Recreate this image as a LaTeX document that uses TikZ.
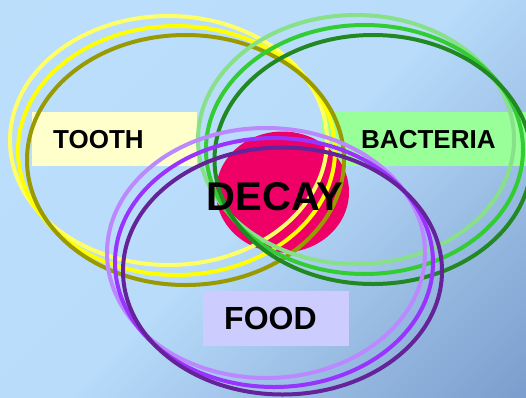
\documentclass[tikz,border=0pt]{standalone}
\usepackage{fontspec}
\setmainfont{Liberation Sans}
\usetikzlibrary{shapes.geometric}
\definecolor{bgdark}{RGB}{118,152,200}
\definecolor{bgdark2}{RGB}{124,158,206}
\definecolor{bglight}{RGB}{184,220,250}
\definecolor{bglight2}{RGB}{188,224,252}
\pgfdeclareverticalshading{bgshade}{100bp}{color(0bp)=(bgdark); color(15bp)=(bgdark2); color(50bp)=(bglight); color(100bp)=(bglight2)}
\definecolor{yelA}{HTML}{FFFF66}
\definecolor{yelB}{HTML}{FFFF00}
\definecolor{yelC}{HTML}{999900}
\definecolor{grnA}{HTML}{88E088}
\definecolor{grnB}{HTML}{33CC33}
\definecolor{grnC}{HTML}{228822}
\definecolor{purA}{HTML}{BB88FF}
\definecolor{purB}{HTML}{9933FF}
\definecolor{purC}{HTML}{662299}
\definecolor{decayred}{HTML}{EE0066}
\definecolor{toothbg}{HTML}{FFFFCC}
\definecolor{bactbg}{HTML}{99FF99}
\definecolor{foodbg}{HTML}{CCCCFF}
\begin{document}
\begin{tikzpicture}[x=1pt,y=-1pt,
  lblbox/.style={inner sep=0pt, anchor=north west, minimum height=54pt, align=left,
    font=\bfseries\fontsize{26}{26}\selectfont},
  ring/.style={line width=4pt},
  ringA/.style={ring},
]
\useasboundingbox (0,0) rectangle (526,397);
\shade[shading=bgshade, shading angle=45] (0,0) rectangle (526,397);

% label boxes
\node[lblbox, fill=toothbg, text width=165pt] (tooth) at (32,112) {\hspace*{21pt}TOOTH};
\node[lblbox, fill=bactbg, text width=205pt] (bacteria) at (321,112) {\hspace*{40pt}BACTERIA};
\node[lblbox, fill=foodbg, text width=146pt, minimum height=55pt,
      font=\bfseries\fontsize{32}{32}\selectfont] (food) at (203,291) {\hspace*{21pt}FOOD};

% red blob
\node[ellipse, fill=decayred, inner sep=0pt, minimum width=133pt, minimum height=121pt] (blob) at (282.5,192) {};

% yellow rings
\draw[ring, yelA] (168.5,140.5) ellipse [x radius=158.5, y radius=124.5];
\draw[ring, yelB] (176.5,150.5) ellipse [x radius=158.5, y radius=124.5];
\draw[ring, yelC] (185.5,160) ellipse [x radius=158.5, y radius=125];
% green rings
\draw[ring, grnA] (356,139.5) ellipse [x radius=158, y radius=124.5];
\draw[ring, grnB] (364.5,149.5) ellipse [x radius=158.5, y radius=124.5];
\draw[ring, grnC] (373,159.5) ellipse [x radius=158.5, y radius=124.5];
% purple rings
\draw[ring, purA] (266,253) ellipse [x radius=159, y radius=125];
\draw[ring, purB] (274,262.5) ellipse [x radius=159, y radius=124.5];
\draw[ring, purC] (282.5,271) ellipse [x radius=159.5, y radius=123.5];

\node[inner sep=0pt, font=\bfseries\fontsize{40}{40}\selectfont] (decay) at (275,196.5) {DECAY};
\end{tikzpicture}
\end{document}
